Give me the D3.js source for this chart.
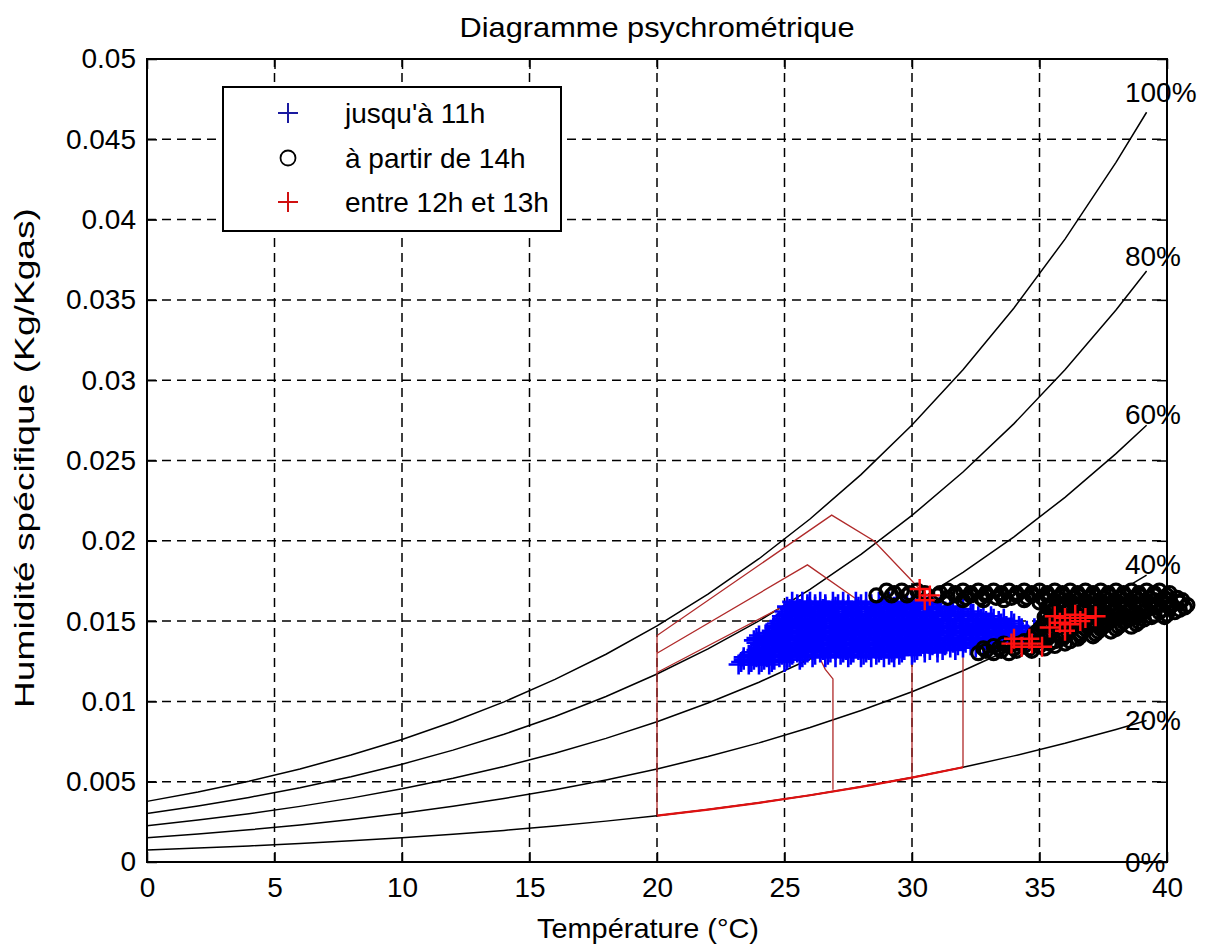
<!DOCTYPE html>
<html>
<head>
<meta charset="utf-8">
<script src="https://cdn.jsdelivr.net/npm/d3@7"></script>
<style>
  html, body { margin: 0; padding: 0; background: #fff; }
  svg text { font-family: "Liberation Sans", Arial, Helvetica, sans-serif; fill: #000; }
</style>
</head>
<body>
<svg id="chart" width="1209" height="949"></svg>
<script>
// ---------------- DATA ----------------
const title = "Diagramme psychrométrique";
const xLabel = "Température (°C)";
const yLabel = "Humidité spécifique (Kg/Kgas)";
const xTicks = [0, 5, 10, 15, 20, 25, 30, 35, 40];
const yTicks = [0, 0.005, 0.01, 0.015, 0.02, 0.025, 0.03, 0.035, 0.04, 0.045, 0.05];

// temperatures of the relative-humidity curves (°C)
const curveT = [0, 2, 4, 6, 8, 10, 12, 14, 16, 18, 20, 22, 24, 26, 28, 30, 32, 34, 36, 38, 39.2];
const rh100 = [0.003775, 0.004364, 0.005034, 0.005795, 0.006657, 0.007632, 0.008732, 0.009973, 0.011369, 0.012938, 0.014699, 0.016673, 0.018884, 0.021358, 0.024122, 0.027210, 0.030655, 0.034499, 0.038786, 0.043566, 0.046684];
const rh80  = [0.003016, 0.003487, 0.004021, 0.004627, 0.005314, 0.006091, 0.006966, 0.007953, 0.009062, 0.010308, 0.011704, 0.013267, 0.015016, 0.016970, 0.019149, 0.021579, 0.024285, 0.027297, 0.030647, 0.034371, 0.036795];
const rh60  = [0.002259, 0.002611, 0.003011, 0.003464, 0.003977, 0.004557, 0.005210, 0.005946, 0.006772, 0.007699, 0.008737, 0.009898, 0.011195, 0.012641, 0.014252, 0.016045, 0.018037, 0.020250, 0.022706, 0.025427, 0.027194];
const rh40  = [0.001504, 0.001738, 0.002004, 0.002305, 0.002646, 0.003030, 0.003464, 0.003951, 0.004498, 0.005112, 0.005797, 0.006564, 0.007418, 0.008371, 0.009429, 0.010605, 0.011910, 0.013355, 0.014955, 0.016724, 0.017869];
const rh20  = [0.000751, 0.000868, 0.001000, 0.001151, 0.001320, 0.001512, 0.001727, 0.001969, 0.002241, 0.002545, 0.002885, 0.003265, 0.003687, 0.004157, 0.004679, 0.005258, 0.005898, 0.006607, 0.007389, 0.008251, 0.008808];
const rh0   = [0, 0, 0, 0, 0, 0, 0, 0, 0, 0, 0, 0, 0, 0, 0, 0, 0, 0, 0, 0, 0];

// curve labels: text, position (T, W)
const rhLabels = ["100%", "80%", "60%", "40%", "20%", "0%"];
const rhLabelT = [38.35, 38.35, 38.35, 38.35, 38.35, 38.35];
const rhLabelW = [0.04795, 0.03773, 0.0279, 0.01856, 0.00884, 0.0];

// red comfort-zone outlines (T, W)
const zoneA = [[20, 0.0029], [20, 0.0141], [26.85, 0.0216], [28.5, 0.0200], [30.3, 0.0170], [32, 0.0148], [32, 0.0059]];
const zoneB = [[20, 0.0130], [25.9, 0.0185], [27.7, 0.0165], [30, 0.0139], [30, 0.00526]];
const zoneC = [[20, 0.0118], [25.3, 0.0162], [26.6, 0.0120], [26.9, 0.0114], [26.9, 0.0045]];
const zoneBase = [[20, 0.002885], [22, 0.003265], [24, 0.003687], [26, 0.004157], [28, 0.004679], [30, 0.005258], [32, 0.0059]];

// series names
const seriesNames = ["jusqu'à 11h", "à partir de 14h", "entre 12h et 13h"];

// "jusqu'à 11h" (blue +): rows of [W, temperatures]
const blueRows = [
  [0.0162, [25.3, 25.7, 26.0, 26.4, 26.9, 27.3, 27.8, 28.2, 28.7, 29.1, 29.6, 30.0, 30.5]],
  [0.01605, [25.5, 25.9, 26.2, 26.6, 27.1, 27.5, 28.0, 28.4, 28.9, 29.4, 29.8, 30.3, 30.8]],
  [0.0159, [25.1, 25.5, 25.9, 26.2, 26.6, 27.0, 27.5, 27.9, 28.4, 28.8, 29.3, 29.7, 30.2, 30.6, 31.1, 31.6]],
  [0.01575, [25.2, 25.6, 26.0, 26.5, 26.9, 27.3, 27.8, 28.2, 28.7, 29.2, 29.6, 30.1, 30.5, 31.0, 31.5, 32.0]],
  [0.0156, [25.0, 25.4, 25.8, 26.3, 26.7, 27.1, 27.6, 28.0, 28.5, 29.0, 29.4, 29.9, 30.3, 30.8, 31.3, 31.8, 32.3]],
  [0.01545, [25.1, 25.5, 26.0, 26.4, 26.8, 27.3, 27.7, 28.2, 28.6, 29.1, 29.5, 30.0, 30.5, 31.0, 31.4, 31.9, 32.4, 32.8]],
  [0.0153, [24.9, 25.3, 25.7, 26.1, 26.5, 27.0, 27.4, 27.9, 28.3, 28.8, 29.2, 29.7, 30.1, 30.6, 31.0, 31.5, 32.0, 32.6, 33.1]],
  [0.01515, [24.9, 25.4, 25.8, 26.2, 26.6, 27.1, 27.5, 28.0, 28.4, 28.9, 29.3, 29.8, 30.2, 30.7, 31.2, 31.7, 32.2, 32.7, 33.2, 33.6]],
  [0.0150, [24.8, 25.2, 25.6, 26.0, 26.4, 26.8, 27.3, 27.7, 28.2, 28.6, 29.1, 29.5, 30.0, 30.4, 30.9, 31.4, 31.9, 32.4, 32.9, 33.4, 33.9]],
  [0.01485, [24.7, 25.1, 25.6, 26.1, 26.5, 27.0, 27.4, 27.9, 28.3, 28.8, 29.2, 29.7, 30.1, 30.6, 31.0, 31.5, 32.0, 32.5, 33.0, 33.5, 34.0]],
  [0.0147, [24.6, 25.0, 25.5, 25.9, 26.3, 26.8, 27.2, 27.6, 28.1, 28.5, 29.0, 29.4, 29.9, 30.3, 30.8, 31.2, 31.7, 32.2, 32.7, 33.2, 33.7, 34.2]],
  [0.01455, [24.6, 25.1, 25.5, 26.0, 26.4, 26.9, 27.3, 27.8, 28.2, 28.7, 29.1, 29.6, 30.0, 30.5, 30.9, 31.4, 31.9, 32.4, 32.9, 33.3, 33.8, 34.3, 34.8]],
  [0.0144, [24.5, 24.9, 25.3, 25.8, 26.2, 26.6, 27.1, 27.5, 28.0, 28.4, 28.9, 29.3, 29.8, 30.2, 30.7, 31.1, 31.6, 32.1, 32.6, 33.0, 33.5, 34.0, 34.5]],
  [0.01425, [24.3, 24.7, 25.1, 25.6, 26.0, 26.4, 26.9, 27.3, 27.8, 28.2, 28.7, 29.1, 29.6, 30.0, 30.5, 30.9, 31.4, 31.9, 32.3, 32.8, 33.3, 33.8, 34.3, 34.8]],
  [0.0141, [24.0, 24.4, 24.8, 25.2, 25.7, 26.1, 26.5, 27.0, 27.4, 27.8, 28.3, 28.7, 29.2, 29.6, 30.1, 30.5, 31.0, 31.5, 32.0, 32.5, 33.0, 33.5, 34.0, 34.6, 35.1]],
  [0.01395, [23.9, 24.3, 24.7, 25.1, 25.6, 26.0, 26.4, 26.9, 27.3, 27.8, 28.2, 28.7, 29.1, 29.6, 30.0, 30.5, 31.0, 31.5, 32.0, 32.5, 33.0, 33.5, 34.1, 34.7, 35.2]],
  [0.0138, [23.8, 24.2, 24.6, 25.0, 25.5, 25.9, 26.3, 26.8, 27.2, 27.7, 28.1, 28.6, 29.0, 29.5, 29.9, 30.4, 30.9, 31.4, 31.9, 32.4, 32.9, 33.4, 34.0, 34.5]],
  [0.01365, [23.9, 24.4, 24.8, 25.2, 25.7, 26.1, 26.5, 27.0, 27.4, 27.9, 28.3, 28.8, 29.2, 29.7, 30.1, 30.6, 31.1, 31.6, 32.1, 32.6, 33.1, 33.6, 34.2]],
  [0.0135, [24.1, 24.5, 24.9, 25.4, 25.8, 26.2, 26.7, 27.1, 27.6, 28.0, 28.5, 28.9, 29.4, 29.8, 30.3, 30.8, 31.3, 31.8, 32.3, 32.8, 33.3]],
  [0.01335, [24.0, 24.6, 25.0, 25.5, 25.9, 26.4, 26.8, 27.3, 27.7, 28.2, 28.6, 29.1, 29.6, 30.0, 30.5, 31.0, 31.5, 32.0, 32.5, 33.0]],
  [0.0132, [23.9, 24.3, 24.8, 25.2, 25.6, 26.1, 26.5, 27.0, 27.4, 27.9, 28.3, 28.8, 29.3, 29.7, 30.2, 30.7, 31.2, 31.7]],
  [0.01305, [23.7, 24.2, 24.6, 25.0, 25.5, 25.9, 26.4, 26.8, 27.3, 27.7, 28.2, 28.7, 29.2, 29.6, 30.1, 30.5, 31.0]],
  [0.0129, [23.6, 24.0, 24.4, 24.9, 25.3, 25.8, 26.2, 26.7, 27.2, 27.6, 28.1, 28.6, 29.1, 29.5, 30.0]],
  [0.01275, [23.4, 23.9, 24.3, 24.8, 25.2, 25.7, 26.1, 26.6, 27.0, 27.5, 28.0, 28.4, 28.9, 29.3]],
  [0.0126, [23.4, 23.8, 24.2, 24.6, 25.1, 25.6]],
  [0.01245, [23.3, 23.7, 24.1, 24.5, 25.0]],
  [0.0123, [23.2, 23.6, 24.0, 24.4]]
];

// "à partir de 14h" (black o)
const blackRows = [
  [0.0169, [29.0, 29.6, 30.2, 31.4, 32.0, 32.6, 33.2, 33.8, 34.4, 35.0, 35.6, 36.2, 36.8, 37.4, 38.0, 38.6, 39.2, 39.7]],
  [0.01675, [29.3, 29.9, 30.5, 31.1, 31.7, 32.3, 32.9, 33.5, 34.1, 34.7, 35.3, 35.9, 36.5, 37.1, 37.7, 38.3, 38.9, 39.5, 40.1]],
  [0.0166, [28.6, 29.2, 29.8, 31.0, 31.7, 32.3, 32.9, 33.5, 34.1, 34.7, 35.3, 35.9, 36.5, 37.1, 37.7, 38.3, 38.9, 39.5, 40.0]],
  [0.01645, [31.4, 32.1, 32.7, 33.3, 33.9, 34.5, 35.1, 35.7, 36.3, 36.9, 37.5, 38.1, 38.7, 39.3, 39.9, 40.4]],
  [0.0163, [32.0, 32.8, 33.6, 34.4, 35.2, 35.9, 36.5, 37.1, 37.7, 38.3, 38.9, 39.5, 40.1, 40.6]],
  [0.01615, [35.0, 35.7, 36.3, 36.9, 37.5, 38.1, 38.7, 39.3, 39.9, 40.5]],
  [0.0160, [35.4, 36.0, 36.6, 37.2, 37.8, 38.4, 39.0, 39.6, 40.2, 40.8]],
  [0.01585, [35.3, 35.9, 36.5, 37.1, 37.7, 38.3, 38.9, 39.5, 40.1, 40.7]],
  [0.0157, [35.6, 36.2, 36.8, 37.4, 38.0, 38.6, 39.2, 39.8, 40.5]],
  [0.01555, [35.5, 36.1, 36.7, 37.3, 37.9, 38.5, 39.1, 39.7, 40.3]],
  [0.0154, [35.3, 35.9, 36.5, 37.1, 37.7, 38.3, 38.9, 39.5, 40.0]],
  [0.01525, [35.2, 35.8, 36.4, 37.0, 37.6, 38.2, 38.8, 39.4, 39.9]],
  [0.0151, [35.5, 36.1, 36.7, 37.3, 37.9, 38.5, 39.1]],
  [0.01495, [35.3, 35.9, 36.5, 37.1, 37.7, 38.3, 38.9]],
  [0.0148, [35.2, 35.8, 36.4, 37.0, 37.6, 38.2, 38.8]],
  [0.01465, [35.1, 35.7, 36.3, 36.9, 37.5, 38.1, 38.6]],
  [0.0145, [35.0, 35.6, 36.2, 36.8, 37.4, 38.0]],
  [0.01435, [34.9, 35.5, 36.1, 36.7, 37.3, 37.8]],
  [0.0142, [34.8, 35.4, 36.0, 36.6, 37.2]],
  [0.01405, [34.8, 35.4, 36.0, 36.6, 37.1]],
  [0.0139, [34.7, 35.3, 35.9, 36.5]],
  [0.01375, [34.4, 35.0, 35.6, 36.2]],
  [0.0136, [33.6, 34.2, 34.8, 35.4, 36.0]],
  [0.01345, [33.2, 33.8, 34.4, 35.0, 35.6]],
  [0.0133, [32.8, 33.4, 34.0, 34.6, 35.2]],
  [0.01315, [32.9, 33.5, 34.1, 34.7]],
  [0.0130, [32.6, 33.2, 33.8]]
];

// "entre 12h et 13h" (red +): [T, W]
const redPts = [
  [30.3, 0.0170], [30.7, 0.0166], [30.5, 0.0163],
  [33.9, 0.0136], [34.3, 0.0134], [34.7, 0.0136], [35.1, 0.0134], [34.0, 0.0139], [34.6, 0.0139],
  [35.6, 0.0153], [36.0, 0.0152], [36.4, 0.0154], [36.8, 0.0152], [37.2, 0.0153],
  [35.8, 0.0149], [36.2, 0.0148], [36.6, 0.0150], [35.4, 0.0146], [36.0, 0.0144]
];

// ---------------- DRAWING ----------------
const svg = d3.select("#chart");
const L = 147, R = 1167, T0 = 59, B = 862;
const x = d3.scaleLinear().domain([0, 40]).range([L, R]);
const y = d3.scaleLinear().domain([0, 0.05]).range([B, T0]);
const FS = 28;

svg.append("rect").attr("width", 1209).attr("height", 949).attr("fill", "#fff");

// grid
const grid = svg.append("g");
grid.selectAll("line.gx").data(xTicks.slice(1, -1)).join("line")
  .attr("x1", d => x(d)).attr("x2", d => x(d)).attr("y1", B).attr("y2", T0)
  .attr("stroke", "#000").attr("stroke-width", 1.5).attr("stroke-dasharray", "9,6");
grid.selectAll("line.gy").data(yTicks.slice(1, -1)).join("line")
  .attr("y1", d => y(d)).attr("y2", d => y(d)).attr("x1", L).attr("x2", R)
  .attr("stroke", "#000").attr("stroke-width", 1.5).attr("stroke-dasharray", "9,6");

// RH curves
const line = d3.line().x(d => x(d[0])).y(d => y(d[1]));
[rh100, rh80, rh60, rh40, rh20, rh0].forEach(arr => {
  svg.append("path").datum(curveT.map((t, i) => [t, arr[i]]))
    .attr("d", line).attr("fill", "none").attr("stroke", "#000").attr("stroke-width", 1.5);
});

// comfort zones
[zoneA, zoneB, zoneC].forEach(z => {
  svg.append("path").datum(z).attr("d", line).attr("fill", "none")
    .attr("stroke", "#b02a2a").attr("stroke-width", 1.3);
});
svg.append("path").datum(zoneBase).attr("d", line).attr("fill", "none")
  .attr("stroke", "#e01010").attr("stroke-width", 2.2);

// scatter
const plusPath = "M-10,0H10M0,-10V10";
const blueData = blueRows.flatMap(r => r[1].map(t => [t, r[0]]));
const blackData = blackRows.flatMap(r => r[1].map(t => [t, r[0]]));
svg.append("g").selectAll("path").data(blueData).join("path")
  .attr("transform", d => `translate(${x(d[0])},${y(d[1])})`)
  .attr("d", plusPath).attr("stroke", "#0000ff").attr("stroke-width", 2.6).attr("fill", "none");
svg.append("g").selectAll("circle").data(blackData).join("circle")
  .attr("cx", d => x(d[0])).attr("cy", d => y(d[1])).attr("r", 6.5)
  .attr("stroke", "#000").attr("stroke-width", 3.2).attr("fill", "none");
svg.append("g").selectAll("path").data(redPts).join("path")
  .attr("transform", d => `translate(${x(d[0])},${y(d[1])})`)
  .attr("d", plusPath).attr("stroke", "#ff1010").attr("stroke-width", 2.4).attr("fill", "none");

// RH labels
svg.append("g").selectAll("text").data(rhLabels).join("text")
  .attr("x", (d, i) => x(rhLabelT[i])).attr("y", (d, i) => y(rhLabelW[i]))
  .attr("dy", "0.35em").attr("font-size", FS).attr("fill", "#222").text(d => d);

// axes
const axB = svg.append("g").attr("transform", `translate(0,${B})`)
  .call(d3.axisBottom(x).tickValues(xTicks).tickSize(-10).tickPadding(15).tickFormat(d3.format("d")));
const axL = svg.append("g").attr("transform", `translate(${L},0)`)
  .call(d3.axisLeft(y).tickValues(yTicks).tickSize(-10).tickPadding(11).tickFormat(d => d === 0 ? "0" : String(+d.toFixed(3))));
const axT = svg.append("g").attr("transform", `translate(0,${T0})`)
  .call(d3.axisTop(x).tickValues(xTicks).tickSize(-10).tickFormat(""));
const axR = svg.append("g").attr("transform", `translate(${R},0)`)
  .call(d3.axisRight(y).tickValues(yTicks).tickSize(-10).tickFormat(""));
[axB, axL, axT, axR].forEach(a => {
  a.select(".domain").remove();
  a.selectAll(".tick line").attr("stroke", "#000").attr("stroke-width", 1.5);
  a.selectAll("text").attr("font-size", FS).attr("font-family", "Liberation Sans, Arial, sans-serif").attr("fill", "#111");
});
svg.append("rect").attr("x", L).attr("y", T0).attr("width", R - L).attr("height", B - T0)
  .attr("fill", "none").attr("stroke", "#000").attr("stroke-width", 2);

// titles
svg.append("text").attr("x", (L + R) / 2).attr("y", 37).attr("text-anchor", "middle")
  .attr("font-size", FS).attr("textLength", 395).attr("lengthAdjust", "spacingAndGlyphs").text(title);
svg.append("text").attr("x", 648).attr("y", 938).attr("text-anchor", "middle")
  .attr("font-size", FS).attr("textLength", 222).attr("lengthAdjust", "spacingAndGlyphs").text(xLabel);
svg.append("text").attr("transform", `translate(34,458) rotate(-90)`).attr("text-anchor", "middle")
  .attr("font-size", FS).attr("textLength", 500).attr("lengthAdjust", "spacingAndGlyphs").text(yLabel);

// legend
const lg = svg.append("g");
lg.append("rect").attr("x", 223).attr("y", 87).attr("width", 338).attr("height", 144)
  .attr("fill", "#fff").attr("stroke", "#000").attr("stroke-width", 2);
const legY = [113, 158, 202];
seriesNames.forEach((s, i) => {
  const g = lg.append("g").attr("transform", `translate(288,${legY[i]})`);
  if (i === 1) g.append("circle").attr("r", 7.5).attr("fill", "none").attr("stroke", "#000").attr("stroke-width", 1.8);
  else g.append("path").attr("d", "M-10,0H10M0,-10V10").attr("stroke", i === 0 ? "#1a1aa0" : "#d01010").attr("stroke-width", 2);
  lg.append("text").attr("x", 345).attr("y", legY[i]).attr("dy", "0.35em").attr("font-size", FS).text(s);
});
</script>
</body>
</html>
